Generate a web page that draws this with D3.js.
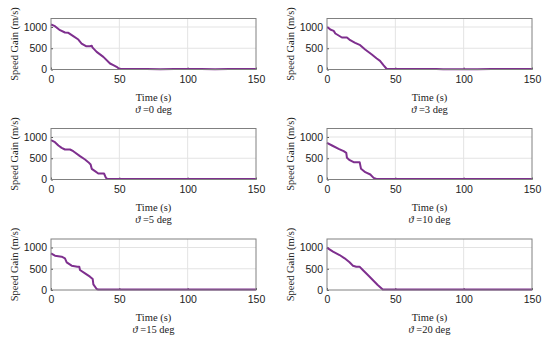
<!DOCTYPE html>
<html><head><meta charset="utf-8">
<script src="https://cdn.jsdelivr.net/npm/d3@7"></script>
<style>body{margin:0;background:#fff}svg{display:block}
.tk{font-family:"Liberation Sans",Arial,sans-serif;font-size:10.5px;fill:#222}
.lb{font-family:"Liberation Serif","Times New Roman",serif;font-size:10.5px;fill:#222}
</style>
</head><body>
<svg id="c" width="550" height="341"></svg>
<script>
// Data (time in s, speed gain in m/s)
const xTicks = [0, 50, 100, 150];
const yTicks = [0, 500, 1000];
const thetas = [0, 3, 5, 10, 15, 20];

const t0 = [0, 2.9, 6.6, 10.2, 12.7, 16.3, 20, 22.4, 25.6, 28.5, 29.8, 30.3, 33.4, 38.3, 43.2, 45.6, 48, 50, 60, 70, 80, 90, 100, 110, 120, 130, 140, 150];
const v0 = [1058, 1019, 925, 870, 862, 784, 705, 611, 549, 549, 560, 520, 415, 298, 141, 102, 63, 12, 10, 12, 8, 11, 9, 12, 8, 11, 9, 10];

const t3 = [0, 0.7, 2.4, 4.9, 6.1, 8.5, 10.9, 14.6, 17, 20.6, 24.3, 27.9, 32.8, 36.4, 38.8, 41.3, 43.7, 50, 60, 70, 80, 85, 100, 110, 120, 130, 140, 150];
const v3 = [990, 988, 941, 909, 847, 800, 753, 753, 690, 627, 572, 470, 353, 259, 204, 102, 12, 10, 12, 9, 12, 4, 3, 4, 10, 12, 10, 11];

const t5 = [0, 2.9, 5.4, 7.8, 10.2, 13.9, 16.3, 21.2, 24.9, 27.3, 29, 29.8, 32.2, 34.6, 38.8, 40.2, 41.2, 50, 60, 70, 80, 90, 100, 110, 120, 130, 140, 150];
const v5 = [925, 878, 800, 745, 706, 706, 666, 549, 470, 408, 353, 251, 196, 141, 141, 39, 12, 11, 9, 12, 9, 11, 10, 12, 9, 11, 10, 12];

const t10 = [0, 3.7, 8.5, 12.2, 14.1, 14.6, 16.6, 19.5, 23.9, 24.9, 28, 31.7, 34.1, 36.1, 50, 60, 70, 80, 90, 100, 110, 120, 130, 140, 150];
const v10 = [862, 800, 721, 666, 627, 510, 455, 408, 408, 251, 172, 118, 39, 12, 11, 9, 12, 10, 11, 14, 10, 12, 9, 11, 12];

const t15 = [0, 2.9, 7.8, 10.2, 11.5, 15.1, 19.3, 20.7, 21.2, 24.9, 28.5, 30.5, 31, 33.4, 34.6, 50, 60, 70, 80, 90, 100, 110, 120, 130, 140, 150];
const v15 = [862, 807, 784, 745, 651, 572, 549, 549, 470, 392, 314, 259, 133, 24, 12, 12, 10, 12, 9, 11, 14, 10, 12, 9, 11, 12];

const t20 = [0, 0.7, 4.4, 9.2, 12.9, 16.5, 19, 21.4, 23.8, 26.2, 29.9, 33.5, 37.1, 40.8, 50, 60, 70, 80, 90, 100, 110, 120, 130, 140, 150];
const v20 = [996, 980, 902, 823, 745, 651, 572, 549, 549, 470, 353, 235, 118, 12, 11, 12, 10, 12, 9, 13, 10, 12, 9, 11, 12];

const series = [[t0, v0], [t3, v3], [t5, v5], [t10, v10], [t15, v15], [t20, v20]];

const svg = d3.select("#c");
const colLeft = [51, 327], colW = 205;
const rowTop = [18.5, 128.5, 239], rowH = 51;
const purple = "#7E2F8E";

series.forEach(([ts, vs], i) => {
  const col = i % 2, row = Math.floor(i / 2);
  const x0 = colLeft[col], y0 = rowTop[row];
  const x = d3.scaleLinear().domain([0, 150]).range([x0, x0 + colW]);
  const y = d3.scaleLinear().domain([0, 1200]).range([y0 + rowH, y0]);
  const g = svg.append("g");

  // grid
  g.selectAll(".gx").data(xTicks.slice(1, -1)).join("line")
    .attr("x1", d => x(d)).attr("x2", d => x(d)).attr("y1", y0).attr("y2", y0 + rowH)
    .attr("stroke", "#e3e3e3").attr("stroke-width", 1);
  g.selectAll(".gy").data(yTicks.slice(1)).join("line")
    .attr("x1", x0).attr("x2", x0 + colW).attr("y1", d => y(d)).attr("y2", d => y(d))
    .attr("stroke", "#e3e3e3").attr("stroke-width", 1);

  // axes
  const xa = g.append("g").attr("transform", `translate(0,${y0 + rowH})`)
    .call(d3.axisBottom(x).tickValues(xTicks).tickFormat(d3.format("d")).tickSizeInner(-2).tickSizeOuter(0).tickPadding(6));
  const ya = g.append("g").attr("transform", `translate(${x0},0)`)
    .call(d3.axisLeft(y).tickValues(yTicks).tickFormat(d3.format("d")).tickSizeInner(-2).tickSizeOuter(0).tickPadding(4));
  [xa, ya].forEach(a => {
    a.attr("font-family", null).attr("font-size", null);
    a.select(".domain").remove();
    a.selectAll("line").attr("stroke", "#555");
    a.selectAll("text").attr("class", "tk").attr("fill", null);
  });

  // line
  const line = d3.line().x(d => x(d[0])).y(d => y(d[1]));
  g.append("path").datum(ts.map((t, k) => [t, vs[k]]))
    .attr("d", line).attr("fill", "none").attr("stroke", purple)
    .attr("stroke-width", 2).attr("stroke-linejoin", "round");

  // box
  g.append("rect").attr("x", x0).attr("y", y0).attr("width", colW).attr("height", rowH)
    .attr("fill", "none").attr("stroke", "#808080").attr("stroke-width", 1);

  // labels
  g.append("text").attr("class", "lb").attr("x", x0 + colW / 2).attr("y", y0 + rowH + 31)
    .attr("text-anchor", "middle").text("Time (s)");
  const sub = g.append("text").attr("class", "lb").attr("x", x0 + colW / 2).attr("y", y0 + rowH + 43)
    .attr("text-anchor", "middle");
  sub.append("tspan").attr("font-style", "italic").text("ϑ");
  sub.append("tspan").text(" =" + thetas[i] + " deg");
  g.append("text").attr("class", "lb").attr("transform", `translate(${x0 - 33},${y0 + rowH / 2}) rotate(-90)`)
    .attr("text-anchor", "middle").text("Speed Gain (m/s)");
});
</script>
</body></html>
